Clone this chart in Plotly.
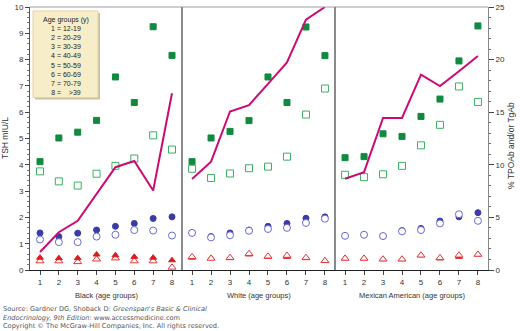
import plotly.graph_objects as go

# Age groups on each x axis
groups = [1, 2, 3, 4, 5, 6, 7, 8]
age_labels = ["1 = 12-19", "2 = 20-29", "3 = 30-39", "4 = 40-49",
              "5 = 50-59", "6 = 60-69", "7 = 70-79", "8 =\u00a0\u00a0\u00a0\u00a0>39"]
panel_titles = ["Black (age groups)", "White (age groups)", "Mexican American (age groups)"]

# TSH (mIU/L) by age group -- Black
black_sq_fill = [4.12, 5.02, 5.24, 5.69, 7.34, 6.37, 9.25, 8.16]
black_sq_open = [3.75, 3.37, 3.21, 3.66, 3.96, 4.24, 5.12, 4.58]
black_ci_fill = [1.41, 1.27, 1.40, 1.52, 1.66, 1.77, 1.96, 2.02]
black_ci_open = [1.16, 1.06, 1.06, 1.27, 1.34, 1.52, 1.50, 1.31]
black_tr_fill = [0.47, 0.45, 0.45, 0.59, 0.56, 0.50, 0.47, 0.37]
black_tr_open = [0.34, 0.34, 0.31, 0.41, 0.45, 0.34, 0.34, 0.10]
black_ab = [1.71, 3.59, 4.68, 7.20, 9.77, 10.36, 7.55, 16.8]   # % TPOAb and/or TgAb

# TSH (mIU/L) by age group -- White
white_sq_fill = [4.12, 5.02, 5.27, 5.68, 7.34, 6.37, 9.24, 8.15]
white_sq_open = [3.85, 3.50, 3.67, 3.87, 3.93, 4.31, 5.91, 6.90]
white_ci_fill = [1.41, 1.27, 1.41, 1.52, 1.66, 1.77, 1.97, 2.02]
white_ci_open = [1.41, 1.24, 1.32, 1.49, 1.56, 1.60, 1.79, 1.95]
white_tr_fill = [0.47, 0.45, 0.45, 0.59, 0.50, 0.50, 0.45, 0.35]
white_tr_open = [0.50, 0.44, 0.47, 0.62, 0.52, 0.55, 0.47, 0.35]
white_ab = [8.64, 10.3, 15.07, 15.67, 17.7, 19.73, 23.8, 25.0]

# TSH (mIU/L) by age group -- Mexican American
mex_sq_fill = [4.27, 4.31, 5.18, 5.08, 5.84, 6.50, 7.95, 9.28]
mex_sq_open = [3.62, 3.53, 3.64, 3.96, 4.74, 5.52, 6.98, 6.39]
mex_ci_fill = [1.30, 1.34, 1.29, 1.50, 1.58, 1.86, 2.02, 2.18]
mex_ci_open = [1.30, 1.34, 1.29, 1.47, 1.52, 1.77, 2.12, 1.87]
mex_tr_fill = [0.44, 0.44, 0.41, 0.41, 0.56, 0.44, 0.50, 0.59]
mex_tr_open = [0.44, 0.44, 0.41, 0.41, 0.56, 0.46, 0.56, 0.59]
mex_ab = [8.68, 9.30, 14.45, 14.45, 18.57, 17.48, 18.9, 20.35]

panels = [
    (black_sq_fill, black_sq_open, black_ci_fill, black_ci_open, black_tr_fill, black_tr_open, black_ab),
    (white_sq_fill, white_sq_open, white_ci_fill, white_ci_open, white_tr_fill, white_tr_open, white_ab),
    (mex_sq_fill, mex_sq_open, mex_ci_fill, mex_ci_open, mex_tr_fill, mex_tr_open, mex_ab),
]

GREEN_D = "#0f8a3f"
GREEN_L = "#3cb062"
BLUE_D = "#3b3ba6"
BLUE_L = "#6a6ad2"
RED_D = "#dc1c1c"
RED_L = "#e2383c"
MAGENTA = "#cc0a74"
FONT = "Liberation Sans, Arial, sans-serif"

fig = go.Figure()

b1, b2 = 152 / 458, 305 / 458
domains = [[0, b1], [b1, b2], [b2, 1]]
xnames = ["x", "x2", "x3"]

for i, data in enumerate(panels):
    sq_f, sq_o, ci_f, ci_o, tr_f, tr_o, ab = data
    xa = xnames[i]
    fig.add_trace(go.Scatter(x=groups, y=ab, mode="lines", xaxis=xa, yaxis="y4",
                             line=dict(color=MAGENTA, width=2), showlegend=False))
    # (values, symbol, edge colour, fill colour, size); hollow markers get a white fill
    specs = [
        (sq_f, "square", GREEN_D, GREEN_D, 6),
        (sq_o, "square", GREEN_L, "white", 7),
        (ci_f, "circle", BLUE_D, BLUE_D, 6),
        (ci_o, "circle", BLUE_L, "white", 7),
        (tr_o, "triangle-up", RED_L, "white", 7),
        (tr_f, "triangle-up", RED_D, RED_D, 6),
    ]
    if i > 0:
        # hollow triangles sit on top in the White and Mexican American panels
        specs[4], specs[5] = specs[5], specs[4]
    for vals, sym, edge, fill, sz in specs:
        fig.add_trace(go.Scatter(
            x=groups, y=vals, mode="markers", xaxis=xa, yaxis="y",
            marker=dict(symbol=sym, color=fill, size=sz, line=dict(width=1, color=edge)),
            showlegend=False))

axis_common = dict(range=[0.47, 8.53], tickmode="array", tickvals=groups,
                   ticktext=[str(g) for g in groups], ticks="outside", ticklen=4,
                   tickcolor="#444", showline=True, linecolor="#222", linewidth=1,
                   showgrid=False, zeroline=False,
                   tickfont=dict(family=FONT, size=8, color="#333"))

fig.update_layout(
    width=520, height=331,
    margin=dict(l=30, r=32, t=3, b=61),
    paper_bgcolor="white", plot_bgcolor="white",
    xaxis=dict(domain=domains[0], anchor="y", **axis_common),
    xaxis2=dict(domain=domains[1], anchor="y", **axis_common),
    xaxis3=dict(domain=domains[2], anchor="y", **axis_common),
    yaxis=dict(range=[0, 10], dtick=1, anchor="x", ticks="outside", ticklen=4,
               tickcolor="#444", showline=True, linecolor="#555", linewidth=1,
               showgrid=False, zeroline=False, ticklabeloverflow="allow",
               minor=dict(dtick=0.2, ticks="outside", ticklen=2, tickcolor="#777"),
               tickfont=dict(family=FONT, size=8, color="#333")),
    yaxis4=dict(range=[0, 25], dtick=5, overlaying="y", anchor="x3", side="right",
                ticks="outside", ticklen=5, tickcolor="#444", showline=True,
                linecolor="#888", linewidth=1, showgrid=False, zeroline=False,
                ticklabeloverflow="allow",
                minor=dict(dtick=1, ticks="outside", ticklen=2, tickcolor="#666"),
                tickfont=dict(family=FONT, size=8, color="#333")),
    showlegend=False,
)

shapes = [
    dict(type="line", xref="paper", yref="paper", x0=0, x1=1, y0=1, y1=1,
         line=dict(color="#a09aa0", width=1)),
    dict(type="line", xref="paper", yref="paper", x0=b1, x1=b1, y0=0, y1=1,
         line=dict(color="#8a8a8a", width=2)),
    dict(type="line", xref="paper", yref="paper", x0=b2, x1=b2, y0=0, y1=1,
         line=dict(color="#8a8a8a", width=2)),
    # key box with a soft drop shadow
    dict(type="rect", xref="paper", yref="paper",
         x0=(35 - 30) / 458, x1=(100 - 30) / 458, y0=(270 - 97) / 267, y1=(270 - 9) / 267,
         line=dict(width=0), fillcolor="#cdbf98"),
    dict(type="rect", xref="paper", yref="paper",
         x0=(33 - 30) / 458, x1=(98 - 30) / 458, y0=(270 - 95) / 267, y1=(270 - 7) / 267,
         line=dict(color="#e2d4a8", width=1), fillcolor="#f7eec9"),
]
fig.update_layout(shapes=shapes)

annotations = [
    dict(text="<br>".join(["Age groups (y)"] + age_labels), xref="paper", yref="paper",
         x=(66 - 30) / 458, y=(270 - 10) / 267, xanchor="center", yanchor="top",
         showarrow=False, align="center", font=dict(family=FONT, size=7, color="#222")),
    dict(text="TSH mIU/L", xref="paper", yref="paper", x=-25 / 458, y=(270 - 136) / 267,
         textangle=-90, showarrow=False, xanchor="center", yanchor="middle",
         font=dict(family=FONT, size=8.5, color="#333")),
    dict(text="% TPOAb and/or TgAb", xref="paper", yref="paper", x=(511 - 30) / 458,
         y=(270 - 144) / 267, textangle=-90, showarrow=False, xanchor="center",
         yanchor="middle", font=dict(family=FONT, size=8.5, color="#333")),
    dict(text=("Source: Gardner DG, Shoback D: <i>Greenspan's Basic &amp; Clinical</i><br>"
               "<i>Endocrinology, 9th Edition</i>: www.accessmedicine.com<br>"
               "Copyright \u00a9 The McGraw-Hill Companies, Inc. All rights reserved."),
         xref="paper", yref="paper", x=-29 / 458, y=(270 - 304) / 267,
         xanchor="left", yanchor="top", align="left", showarrow=False,
         font=dict(family="DejaVu Sans, Verdana, sans-serif", size=6.6, color="#555")),
]
for (d0, d1), title in zip(domains, panel_titles):
    annotations.append(dict(text=title, xref="paper", yref="paper", x=(d0 + d1) / 2,
                            y=(270 - 296) / 267, xanchor="center", yanchor="middle",
                            showarrow=False, font=dict(family=FONT, size=7.5, color="#333")))
fig.update_layout(annotations=annotations)

fig.write_html("out.html")
